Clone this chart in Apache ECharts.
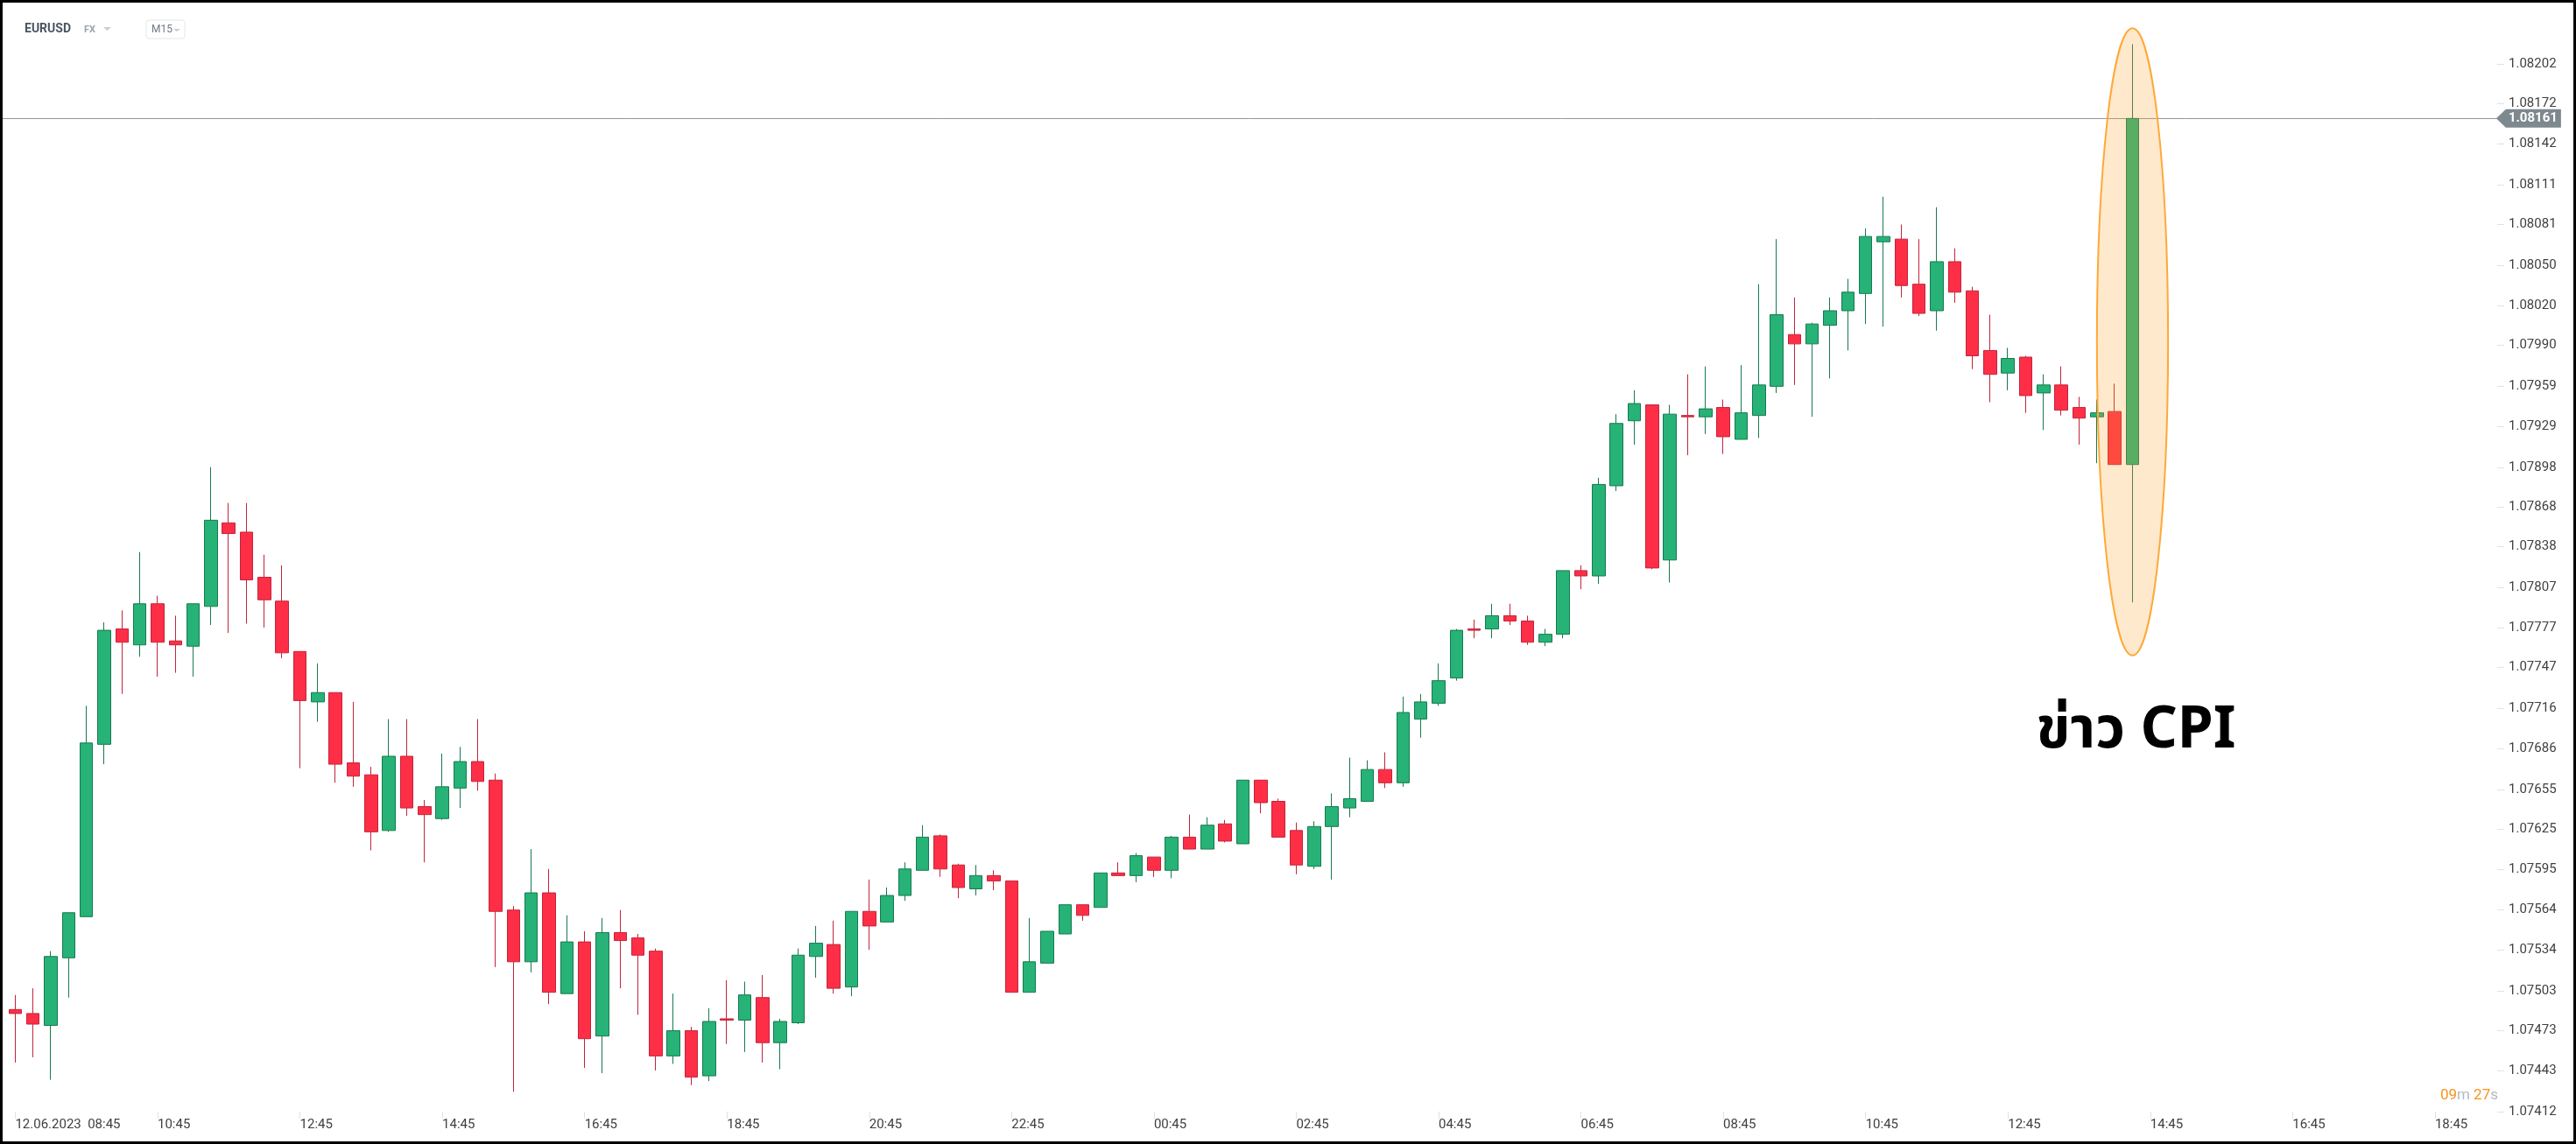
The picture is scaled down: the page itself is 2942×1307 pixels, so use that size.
<!DOCTYPE html>
<html>
<head>
<meta charset="utf-8">
<script src="https://cdn.jsdelivr.net/npm/echarts@6/dist/echarts.min.js"></script>
<style>
html,body{margin:0;padding:0;background:#fff;}
#c{position:absolute;left:0;top:0;width:2942px;height:1307px;}
#frame{position:absolute;left:0;top:0;width:2942px;height:1307px;box-sizing:border-box;border:3px solid #000;pointer-events:none;}
</style>
</head>
<body>
<div id="c"></div>
<div id="frame"></div>
<script>
// ---------- DATA ----------
const symbolName = 'EURUSD';
const marketName = 'FX';
const timeframe = 'M15';
const slotCount = 140; // 15-minute slots on the axis (data + empty future area)
const xTickLabels = ['12.06.2023  08:45','10:45','12:45','14:45','16:45','18:45','20:45','22:45','00:45',
  '02:45','04:45','06:45','08:45','10:45','12:45','14:45','16:45','18:45'];
const yTickLabels = [1.08202,1.08172,1.08142,1.08111,1.08081,1.08050,1.08020,1.07990,1.07959,1.07929,
  1.07898,1.07868,1.07838,1.07807,1.07777,1.07747,1.07716,1.07686,1.07655,1.07625,1.07595,1.07564,
  1.07534,1.07503,1.07473,1.07443,1.07412];
const yMin = 1.07412;
const yMax = 1.0824373;

const open = [
1.07489,1.07486,1.07477,1.07528,1.07559,1.07689,1.07776,1.07764,1.07795,1.07767,
1.07763,1.07793,1.07856,1.07849,1.07815,1.07797,1.07759,1.07721,1.07728,1.07675,
1.07666,1.07624,1.07680,1.07642,1.07633,1.07656,1.07676,1.07662,1.07564,1.07525,
1.07577,1.07501,1.07540,1.07469,1.07547,1.07543,1.07533,1.07454,1.07473,1.07439,
1.07482,1.07481,1.07498,1.07464,1.07479,1.07529,1.07538,1.07506,1.07563,1.07555,
1.07575,1.07594,1.07620,1.07598,1.07580,1.07590,1.07586,1.07502,1.07524,1.07546,
1.07568,1.07566,1.07592,1.07590,1.07604,1.07594,1.07619,1.07610,1.07629,1.07614,
1.07662,1.07646,1.07624,1.07597,1.07627,1.07641,1.07646,1.07670,1.07660,1.07708,
1.07720,1.07739,1.07776,1.07776,1.07786,1.07782,1.07766,1.07772,1.07820,1.07816,
1.07884,1.07933,1.07945,1.07828,1.07937,1.07936,1.07943,1.07919,1.07937,1.07959,
1.07998,1.07991,1.08005,1.08016,1.08029,1.08068,1.08070,1.08036,1.08016,1.08053,
1.08031,1.07986,1.07969,1.07981,1.07954,1.07960,1.07943,1.07936,1.07940,1.07900];
const high = [
1.07500,1.07505,1.07533,1.07562,1.07718,1.07781,1.07790,1.07834,1.07801,1.07786,
1.07795,1.07898,1.07871,1.07871,1.07832,1.07824,1.07759,1.07750,1.07728,1.07721,
1.07672,1.07708,1.07708,1.07647,1.07682,1.07687,1.07708,1.07667,1.07567,1.07610,
1.07595,1.07560,1.07548,1.07558,1.07564,1.07546,1.07535,1.07501,1.07476,1.07490,
1.07511,1.07510,1.07515,1.07482,1.07535,1.07552,1.07556,1.07563,1.07587,1.07581,
1.07600,1.07628,1.07621,1.07599,1.07598,1.07594,1.07586,1.07558,1.07548,1.07568,
1.07568,1.07592,1.07600,1.07607,1.07604,1.07620,1.07636,1.07634,1.07632,1.07662,
1.07662,1.07648,1.07630,1.07631,1.07652,1.07679,1.07677,1.07683,1.07725,1.07727,
1.07750,1.07776,1.07783,1.07795,1.07795,1.07786,1.07776,1.07820,1.07824,1.07890,
1.07938,1.07956,1.07945,1.07945,1.07968,1.07974,1.07949,1.07975,1.08036,1.08070,
1.08026,1.08007,1.08026,1.08040,1.08078,1.08102,1.08081,1.08070,1.08094,1.08063,
1.08034,1.08013,1.07988,1.07982,1.07968,1.07974,1.07951,1.07949,1.07961,1.08217];
const low = [
1.07449,1.07453,1.07436,1.07498,1.07559,1.07674,1.07727,1.07755,1.07740,1.07743,
1.07740,1.07779,1.07773,1.07780,1.07777,1.07754,1.07671,1.07706,1.07660,1.07657,
1.07609,1.07623,1.07635,1.07600,1.07632,1.07641,1.07654,1.07521,1.07427,1.07517,
1.07493,1.07501,1.07445,1.07441,1.07505,1.07485,1.07443,1.07448,1.07432,1.07435,
1.07463,1.07457,1.07449,1.07444,1.07478,1.07513,1.07501,1.07499,1.07534,1.07555,
1.07571,1.07594,1.07589,1.07573,1.07575,1.07579,1.07502,1.07502,1.07524,1.07546,
1.07556,1.07566,1.07590,1.07585,1.07589,1.07588,1.07610,1.07610,1.07615,1.07614,
1.07637,1.07619,1.07591,1.07595,1.07587,1.07634,1.07646,1.07656,1.07657,1.07694,
1.07718,1.07737,1.07769,1.07769,1.07779,1.07764,1.07763,1.07769,1.07806,1.07810,
1.07880,1.07915,1.07821,1.07811,1.07907,1.07923,1.07908,1.07919,1.07920,1.07954,
1.07960,1.07936,1.07965,1.07986,1.08006,1.08004,1.08026,1.08012,1.08001,1.08022,
1.07972,1.07947,1.07956,1.07939,1.07926,1.07937,1.07915,1.07901,1.07900,1.07796];
const close = [
1.07486,1.07478,1.07529,1.07562,1.07690,1.07775,1.07766,1.07795,1.07766,1.07764,
1.07795,1.07858,1.07848,1.07813,1.07798,1.07758,1.07722,1.07728,1.07674,1.07665,
1.07623,1.07680,1.07641,1.07636,1.07657,1.07676,1.07661,1.07563,1.07525,1.07577,
1.07502,1.07540,1.07467,1.07547,1.07541,1.07530,1.07454,1.07473,1.07438,1.07480,
1.07481,1.07500,1.07464,1.07480,1.07530,1.07539,1.07505,1.07563,1.07552,1.07575,
1.07595,1.07619,1.07595,1.07581,1.07590,1.07586,1.07502,1.07525,1.07548,1.07568,
1.07560,1.07592,1.07590,1.07605,1.07594,1.07619,1.07610,1.07628,1.07616,1.07662,
1.07645,1.07619,1.07598,1.07627,1.07642,1.07648,1.07670,1.07660,1.07713,1.07721,
1.07737,1.07775,1.07775,1.07786,1.07782,1.07766,1.07772,1.07820,1.07816,1.07885,
1.07931,1.07946,1.07822,1.07938,1.07936,1.07942,1.07921,1.07939,1.07960,1.08013,
1.07991,1.08006,1.08016,1.08030,1.08072,1.08072,1.08035,1.08014,1.08053,1.08030,
1.07982,1.07968,1.07980,1.07952,1.07960,1.07941,1.07935,1.07939,1.07900,1.08161];

const countdownMin = '09';
const countdownSec = '27';
const annotationText = 'ข่าว CPI';
const ellipseTopValue = 1.08229;
const ellipseBottomValue = 1.07756;
const ellipseHalfSlots = 2;
const annotationValue = 1.07699;

// ---------- BUILD ----------
const categories = [];
for (let i = 0; i < slotCount; i++) {
  const m = 8 * 60 + 45 + i * 15;
  const day = 12 + Math.floor(m / 1440);
  const t = m % 1440;
  categories.push(day + ' ' + String(Math.floor(t / 60)).padStart(2, '0') + ':' + String(t % 60).padStart(2, '0'));
}
const candles = open.map((o, i) => [o, close[i], low[i], high[i]]);
const lastIndex = close.length - 1;
const lastPrice = close[lastIndex];

const FONT = 'Roboto, "Noto Sans", sans-serif';
const chart = echarts.init(document.getElementById('c'), null, { renderer: 'canvas' });

const option = {
  animation: false,
  backgroundColor: '#ffffff',
  grid: { left: 7.24, right: 89.96, top: 10, bottom: 37, containLabel: false },
  xAxis: {
    type: 'category',
    data: categories,
    boundaryGap: true,
    axisLine: { show: false },
    axisTick: { show: true, alignWithLabel: true, interval: 7, length: 8, lineStyle: { color: '#e2e2e2' } },
    axisLabel: {
      interval: 7, align: 'left', margin: 8, color: '#404040', fontFamily: FONT, fontSize: 15,
      formatter: (v, i) => xTickLabels[Math.round(i / 8)] || ''
    },
    splitLine: { show: false }
  },
  yAxis: {
    type: 'value',
    position: 'right',
    min: yMin,
    max: yMax,
    axisLine: { show: false },
    axisTick: { show: true, length: 8, lineStyle: { color: '#e2e2e2' }, customValues: yTickLabels },
    axisLabel: {
      customValues: yTickLabels, margin: 13, color: '#404040', fontFamily: FONT, fontSize: 15,
      formatter: v => Number(v).toFixed(5)
    },
    splitLine: { show: false }
  },
  series: [{
    type: 'candlestick',
    data: candles,
    barWidth: 15,
    z: 3,
    itemStyle: {
      color: '#27b277', color0: '#ff2e47',
      borderColor: '#177a4e', borderColor0: '#c2243a', borderWidth: 1
    },
    markPoint: {
      silent: true, animation: false,
      data: [{
        coord: [slotCount - 1, lastPrice],
        symbol: 'path://M0,11L11,0L74,0L74,22L11,22Z',
        symbolSize: [74, 21],
        symbolOffset: [46, 0],
        itemStyle: { color: '#7e888f' },
        label: {
          show: true, position: 'inside', offset: [5, 0],
          formatter: lastPrice.toFixed(5), color: '#ffffff',
          fontFamily: FONT, fontSize: 15, fontWeight: 'bold'
        }
      }]
    }
  }]
};
chart.setOption(option);

// annotation elements placed through the chart's own scales
const pTop = chart.convertToPixel({ gridIndex: 0 }, [lastIndex, ellipseTopValue]);
const pBot = chart.convertToPixel({ gridIndex: 0 }, [lastIndex, ellipseBottomValue]);
const pLeft = chart.convertToPixel({ gridIndex: 0 }, [lastIndex - ellipseHalfSlots, ellipseTopValue]);
const pText = chart.convertToPixel({ gridIndex: 0 }, [lastIndex, annotationValue]);
const pPrice = chart.convertToPixel({ gridIndex: 0 }, [slotCount - 1, lastPrice]);
const cx = pTop[0];
const cy = (pTop[1] + pBot[1]) / 2;
const lineY = Math.round(pPrice[1]) + 0.5;

chart.setOption({
  graphic: [
    // current price line
    { type: 'line', z: 1, silent: true,
      shape: { x1: 3, y1: lineY, x2: pPrice[0] + 10, y2: lineY },
      style: { stroke: '#8e979d', lineWidth: 1 } },
    { type: 'ellipse', z: 100, silent: true,
      shape: { cx: cx, cy: cy, rx: cx - pLeft[0], ry: (pBot[1] - pTop[1]) / 2 },
      style: { fill: 'rgba(255,163,43,0.24)', stroke: '#ffa838', lineWidth: 2 } },
    { type: 'text', z: 101, silent: true, x: cx + 4, y: pText[1],
      style: { text: annotationText, fill: '#000', fontSize: 66, fontWeight: 'bold',
        fontFamily: '"Noto Sans", "Noto Sans Thai", Tahoma, sans-serif', align: 'center', verticalAlign: 'middle' } },
    // header
    { type: 'text', x: 28, y: 33, silent: true,
      style: { text: symbolName, fill: '#4a5562', fontSize: 14, fontWeight: 'bold', fontFamily: FONT, verticalAlign: 'middle' } },
    { type: 'text', x: 96, y: 34, silent: true,
      style: { text: marketName, fill: '#9aa4af', fontSize: 11, fontWeight: 'bold', fontFamily: FONT, verticalAlign: 'middle' } },
    { type: 'polygon', silent: true, shape: { points: [[118, 31], [127, 31], [122.5, 35]] }, style: { fill: '#c9ced4' } },
    { type: 'rect', silent: true, shape: { x: 167, y: 23, width: 44, height: 21, r: 3 },
      style: { fill: '#fff', stroke: '#e3e6ea', lineWidth: 1 } },
    { type: 'text', x: 173, y: 34, silent: true,
      style: { text: timeframe, fill: '#6f7882', fontSize: 12, fontFamily: FONT, verticalAlign: 'middle' } },
    { type: 'polygon', silent: true, shape: { points: [[198, 33], [206, 33], [202, 36]] }, style: { fill: '#c9ced4' } },
    // countdown
    { type: 'text', x: 2853, y: 1252, silent: true,
      style: { text: '{o|' + countdownMin + '}{g|m} {o|' + countdownSec + '}{g|s}', align: 'right', verticalAlign: 'middle',
        fontSize: 17, fontFamily: FONT,
        rich: { o: { fill: '#f7941d', fontSize: 17, fontFamily: FONT }, g: { fill: '#b3b9bf', fontSize: 17, fontFamily: FONT } } } }
  ]
});
</script>
</body>
</html>
